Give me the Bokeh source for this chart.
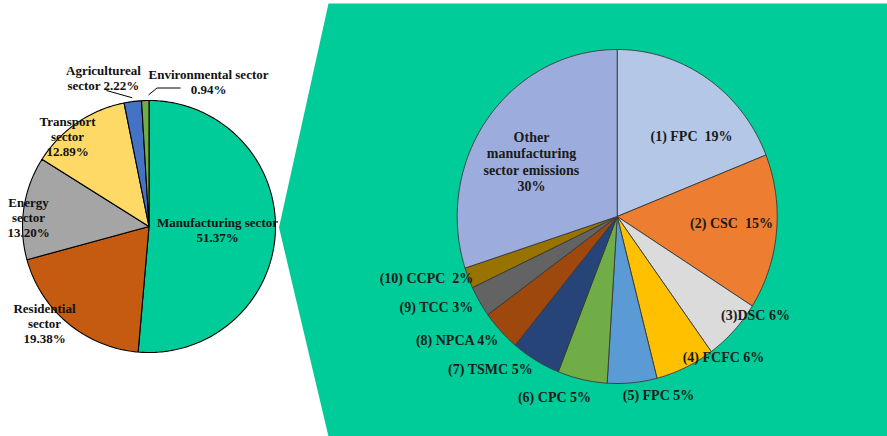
import numpy as np
from bokeh.plotting import figure
from bokeh.models import Range1d
from bokeh.core.properties import value
from bokeh.embed import file_html
from bokeh.resources import INLINE

# ---------------- data ----------------
sector_names = ["Manufacturing sector\n", "Residential\nsector\n", "Energy\nsector\n",
                "Transport\nsector\n", "Agricultureal\nsector ", "Environmental sector\n"]
sector_share = [51.37, 19.38, 13.20, 12.89, 2.22, 0.94]
sector_colors = ["#00CC99", "#C55A11", "#A5A5A5", "#FFD966", "#4472C4", "#70AD47"]

company_names = ["(1) FPC \u00a0", "(2) CSC \u00a0", "(3)DSC ", "(4) FCFC ", "(5) FPC ",
                 "(6) CPC ", "(7) TSMC ", "(8) NPCA ", "(9) TCC ", "(10) CCPC \u00a0",
                 "Other\nmanufacturing\nsector emissions\n"]
company_share = [19, 15, 6, 6, 5, 5, 5, 4, 3, 2, 30]
company_colors = ["#B4C7E7", "#ED7D31", "#DBDBDB", "#FFC000", "#5B9BD5", "#70AD47",
                  "#264478", "#9E480E", "#636363", "#997300", "#9CADDD"]

# ---------------- layout ----------------
W, H = 887, 436
L_CX, L_CY, L_RX, L_RY = 148.5, 226, 126.5, 126
R_CX, R_CY, R_RX, R_RY = 616.7, 216, 160, 167
left_label_pos = [(217, 222), (44, 308), (28, 202), (67, 121), (103, 70), (208, 74)]
right_label_pos = [(691, 136), (731, 223), (755, 315), (723, 357), (658, 395), (554, 397),
                   (490, 369), (457, 340), (436, 307), (426, 278), (531, 137)]
GREEN = "#00CC99"
FONT = value("Liberation Serif")

p = figure(width=W, height=H, output_backend="svg", toolbar_location=None,
           x_range=Range1d(0, W), y_range=Range1d(H, 0),
           x_axis_location=None, y_axis_location=None, min_border=0,
           background_fill_color="white", border_fill_color="white",
           outline_line_color=None)
p.grid.visible = False

# green callout background
p.patch([328, W, W, 328, 278.5], [3, 3, H, H, 227], fill_color=GREEN, line_color=None)


def pie_polys(shares, cx, cy, rx, ry):
    tot = float(sum(shares))
    cum = np.concatenate([[0.0], np.cumsum(shares)]) / tot
    xs, ys, mids = [], [], []
    for i in range(len(shares)):
        a0 = np.pi / 2 - 2 * np.pi * cum[i]
        a1 = np.pi / 2 - 2 * np.pi * cum[i + 1]
        n = max(4, int(abs(a1 - a0) * 60))
        th = np.linspace(a0, a1, n)
        xs.append([cx] + list(cx + rx * np.cos(th)))
        ys.append([cy] + list(cy - ry * np.sin(th)))
        mids.append((a0 + a1) / 2)
    return xs, ys, mids


lx, ly, lmid = pie_polys(sector_share, L_CX, L_CY, L_RX, L_RY)
p.patches(lx, ly, fill_color=sector_colors, line_color="black", line_width=1.1)

rx, ry, rmid = pie_polys(company_share, R_CX, R_CY, R_RX, R_RY)
p.patches(rx, ry, fill_color=company_colors, line_color="#3A3A3A", line_width=0.9)


def draw_labels(texts, positions, size, spacing, color):
    xs, ys, tt = [], [], []
    for t, (x0, y0) in zip(texts, positions):
        for k, line in enumerate(t.split("\n")):
            xs.append(x0)
            ys.append(y0 + k * spacing)
            tt.append(line)
    p.text(xs, ys, text=tt, text_font=FONT, text_font_style="bold",
           text_font_size=size, text_align="center", text_baseline="middle",
           text_color=color)


left_texts = [n + f"{v:.2f}%" for n, v in zip(sector_names, sector_share)]
right_texts = [n + f"{v}%" for n, v in zip(company_names, company_share)]
draw_labels(left_texts, left_label_pos, "13px", 14.8, "#111111")
draw_labels(right_texts, right_label_pos, "14px", 16.4, "#1a1a1a")

# leader lines for small slices (agricultural, environmental)
ag = lmid[4]
p.line([106, L_CX + 1.03 * L_RX * np.cos(ag)], [90, L_CY - 1.03 * L_RY * np.sin(ag)],
       line_color="black", line_width=1)
p.line([148, 156.5, 180], [94.5, 87.5, 87.5], line_color="black", line_width=1)

open("out.html", "w").write(file_html(p, INLINE))
